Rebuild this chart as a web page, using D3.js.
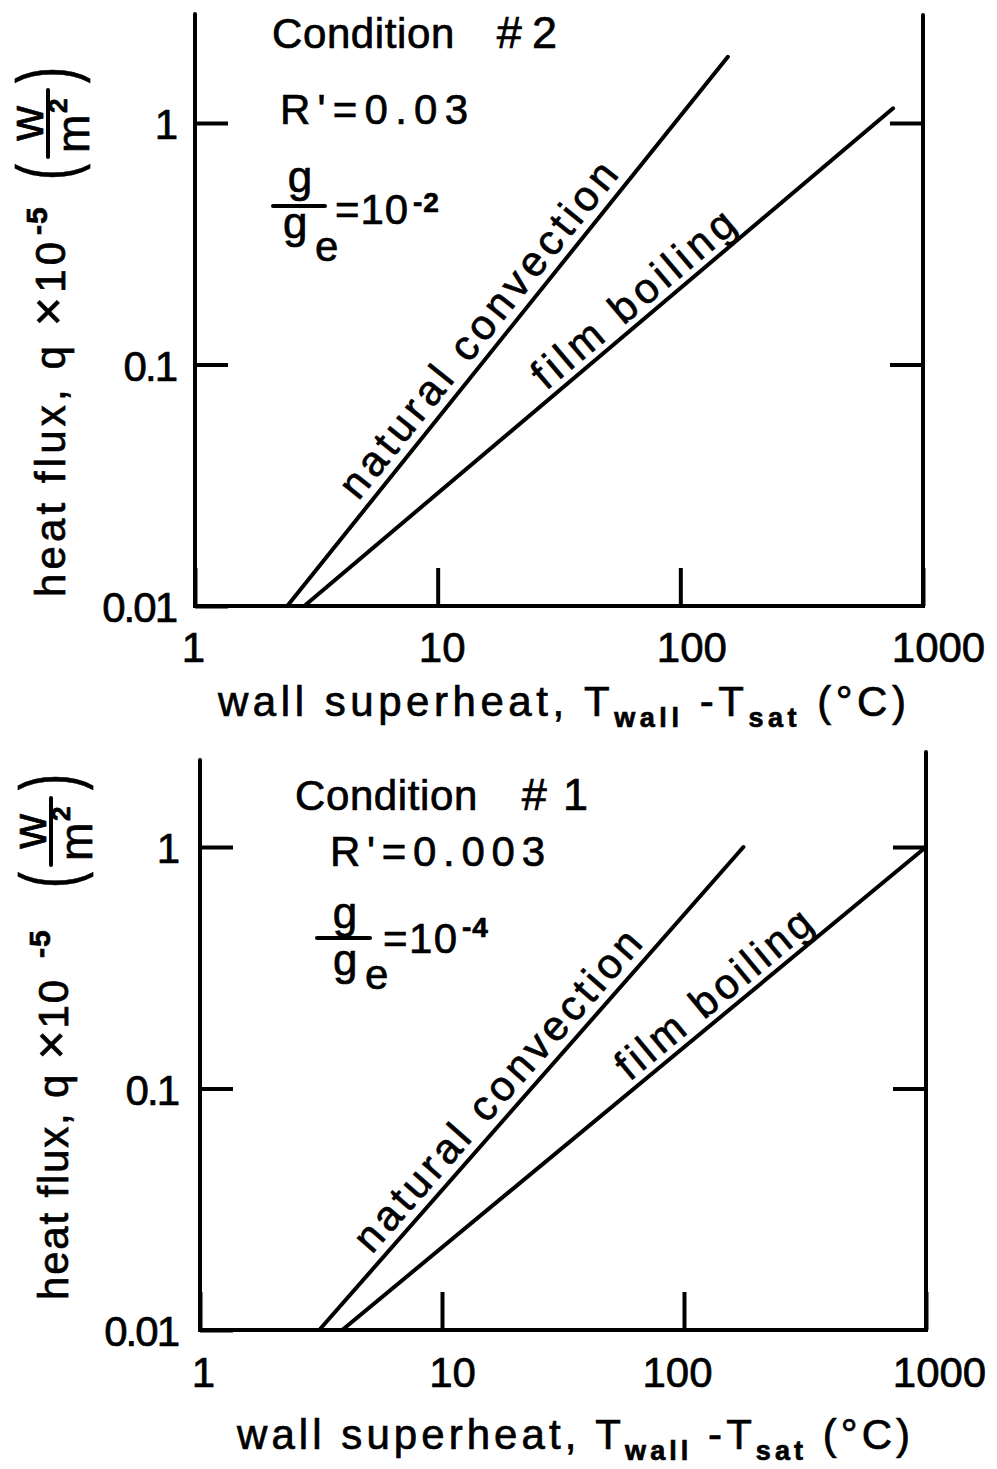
<!DOCTYPE html>
<meta charset="utf-8">
<head>
  <title>Heat flux vs wall superheat</title>
</head>

<style>
body {
  margin: 0;
  background: #fff;
}
svg {
  display: block;
}
text {
  font-family: "Liberation Sans", Arial, sans-serif;
  fill: #000;
  stroke: #000;
  stroke-width: 0.7px;
}
.frame, .curve, .bar {
  stroke: #000;
  stroke-width: 4;
  fill: none;
  stroke-linecap: round;
}
.tick line {
  stroke: #000;
  stroke-width: 4;
}
</style>

<body>
  <div id="chart"></div>

  <script src="https://cdnjs.cloudflare.com/ajax/libs/d3/7.8.5/d3.min.js"></script>
  <script>
  // axis ticks (log-log)
  var xTicks = [1, 10, 100, 1000];
  var xTickLabels = ["1", "10", "100", "1000"];
  var yTicks = [0.01, 0.1, 1];
  var yTickLabels = ["0.01", "0.1", "1"];

  // straight lines, [superheat (C), heat flux x 1e-5] at each end
  // condition #2 (top)
  var natural2 = [[2.4, 0.01], [157, 1.88]];
  var film2 = [[2.82, 0.01], [753, 1.15]];
  // condition #1 (bottom)
  var natural1 = [[3.11, 0.01], [176, 1.0]];
  var film1 = [[3.87, 0.01], [1000, 1.0]];

  var lineNames = ["natural convection", "film boiling"];

  // notes in each panel
  var conditionNames = ["Condition", "Condition"];
  var conditionNumbers = ["#2", "#1"];
  var rValues = ["0.03", "0.003"];
  var gExponents = ["-2", "-4"];

  // stretch a text to a given width with letter spacing
  function fitWidth(t, width) {
    var n = t.node().getNumberOfChars();
    var w = t.node().getComputedTextLength();
    t.attr("letter-spacing", ((width - w) / (n - 1)).toFixed(2));
  }

  var svg = d3.select("#chart").append("svg")
      .attr("width", 997)
      .attr("height", 1469);

  // layout of the two panels (pixels)
  var panels = [
    { lines: [natural2, film2], left: 195, right: 923, bottom: 606, one: 123,
      leftTop: 14, rightTop: 15, tickY: 662, yPad: 19,
      nudge: [-2, 4, 11, 15],
      labels: [{ t: 0.479, off: 10, len: 418 }, { t: 0.586, off: 8, len: 252 }],
      cond: [272, 48, 42, 10], r: [280, 124, 188],
      frac: { x0: 273, x1: 325, y: 206, numX: 300, numY: 192, denX: 283, denY: 238,
              eX: 315, eY: 261, eqX: 335, eqY: 224, eqW: 73, supX: 413, supY: 212 },
      yLab: { x: 65, y: 597, len: 355, sup: 362, open: 417, num: 440, numEnd: 507, close: 514 },
      xLab: { x: 218, y: 716, w: 688 } },
    { lines: [natural1, film1], left: 200, right: 926, bottom: 1330, one: 847,
      leftTop: 760, rightTop: 752, tickY: 1387, yPad: 22,
      nudge: [3, 10, -7, 13],
      labels: [{ t: 0.466, off: 10, len: 413 }, { t: 0.663, off: 8, len: 242 }],
      cond: [295, 810, 44, 16], r: [330, 866, 215],
      frac: { x0: 317, x1: 370, y: 938, numX: 345, numY: 928, denX: 333, denY: 975,
              eX: 365, eY: 989, eqX: 383, eqY: 953, eqW: 74, supX: 462, supY: 937 },
      yLab: { x: 68, y: 1300, len: 320, sup: 342, open: 412, num: 435, numEnd: 502, close: 510 },
      xLab: { x: 237, y: 1449, w: 673 } }
  ];

  panels.forEach(function(p, k) {
    var g = svg.append("g");

    var x = d3.scaleLog().domain([1, 1000]).range([p.left, p.right]);
    var y = d3.scaleLog().domain([0.01, 1]).range([p.bottom, p.one]);

    // frame
    g.append("path").attr("class", "frame")
      .attr("d", d3.line()([[p.left, p.leftTop], [p.left, p.bottom], [p.right, p.bottom], [p.right, p.rightTop]]));

    // bottom ticks and labels
    g.append("g")
      .attr("transform", "translate(0," + p.bottom + ")")
      .call(d3.axisBottom(x).tickValues(xTicks)
        .tickFormat(function(d, i) { return xTickLabels[i]; })
        .tickSizeInner(-38).tickSizeOuter(0).tickPadding(p.tickY - p.bottom - 30))
      .attr("font-size", 42).attr("font-family", null)
      .call(function(a) { a.select(".domain").remove(); })
      .selectAll("text").attr("fill", "#000")
        .attr("dx", function(d, i) { return p.nudge[i]; });

    // left ticks and labels
    g.append("g")
      .attr("transform", "translate(" + p.left + ",0)")
      .call(d3.axisLeft(y).tickValues(yTicks)
        .tickFormat(function(d, i) { return yTickLabels[i]; })
        .tickSizeInner(-33).tickSizeOuter(0).tickPadding(p.yPad))
      .attr("font-size", 42).attr("font-family", null)
      .call(function(a) { a.select(".domain").remove(); })
      .selectAll("text").attr("fill", "#000").attr("dy", "0.38em").attr("letter-spacing", -2);

    // right ticks
    g.append("g")
      .attr("transform", "translate(" + p.right + ",0)")
      .call(d3.axisRight(y).tickValues([0.1, 1]).tickFormat("")
        .tickSizeInner(-33).tickSizeOuter(0))
      .call(function(a) { a.select(".domain").remove(); });

    // the two lines with their labels
    var line = d3.line()
      .x(function(d) { return x(d[0]); })
      .y(function(d) { return y(d[1]); });

    p.lines.forEach(function(s, i) {
      g.append("path").attr("class", "curve").attr("d", line(s));

      var x0 = x(s[0][0]), y0 = y(s[0][1]);
      var x1 = x(s[1][0]), y1 = y(s[1][1]);
      var L = Math.hypot(x1 - x0, y1 - y0);
      var ux = (x1 - x0) / L, uy = (y1 - y0) / L;
      var lab = p.labels[i];
      var cx = x0 + ux * lab.t * L + uy * lab.off;
      var cy = y0 + uy * lab.t * L - ux * lab.off;
      var ang = Math.atan2(uy, ux) * 180 / Math.PI;
      var t = g.append("text")
        .attr("transform", "translate(" + cx + "," + cy + ") rotate(" + ang + ")")
        .attr("text-anchor", "middle")
        .attr("font-size", 42)
        .text(lineNames[i]);
      fitWidth(t, lab.len);
    });

    // condition notes
    var c = g.append("text").attr("x", p.cond[0]).attr("y", p.cond[1])
      .attr("font-size", 42).attr("letter-spacing", 0.6).text(conditionNames[k]);
    c.append("tspan").attr("dx", p.cond[2]).attr("font-size", 45)
      .attr("letter-spacing", p.cond[3]).text(conditionNumbers[k]);
    var r = g.append("text").attr("x", p.r[0]).attr("y", p.r[1])
      .attr("font-size", 42).text("R'=" + rValues[k]);
    fitWidth(r, p.r[2]);

    var f = p.frac;
    g.append("line").attr("class", "bar")
      .attr("x1", f.x0).attr("x2", f.x1).attr("y1", f.y).attr("y2", f.y);
    g.append("text").attr("x", f.numX).attr("y", f.numY)
      .attr("text-anchor", "middle").attr("font-size", 44).text("g");
    g.append("text").attr("x", f.denX).attr("y", f.denY)
      .attr("font-size", 44).text("g");
    g.append("text").attr("x", f.eX).attr("y", f.eY)
      .attr("font-size", 42).text("e");
    var eq = g.append("text").attr("x", f.eqX).attr("y", f.eqY)
      .attr("font-size", 42).text("=10");
    fitWidth(eq, f.eqW);
    g.append("text").attr("x", f.supX).attr("y", f.supY)
      .attr("font-size", 28).attr("font-weight", "bold").attr("letter-spacing", 1)
      .text(gExponents[k]);

    // y axis title, rotated
    var yl = p.yLab;
    var yg = g.append("g")
      .attr("transform", "translate(" + yl.x + "," + yl.y + ") rotate(-90)");
    var main = yg.append("text").attr("x", 0).attr("y", 0)
      .attr("font-size", 42);
    main.append("tspan").text("heat flux, q ");
    main.append("tspan").attr("font-size", 50).text("\u00d7");
    main.append("tspan").text("10");
    fitWidth(main, yl.len);
    yg.append("text").attr("x", yl.sup).attr("y", -18)
      .attr("font-size", 30).attr("font-weight", "bold").attr("letter-spacing", 1).text("-5");
    yg.append("text").attr("transform", "translate(" + yl.open + ",8) scale(0.6,1)")
      .attr("font-size", 80).text("(");
    yg.append("text").attr("x", (yl.num + yl.numEnd) / 2).attr("y", -22)
      .attr("text-anchor", "middle").attr("font-size", 48).text("w");
    yg.append("line").attr("class", "bar")
      .attr("x1", yl.num).attr("x2", yl.numEnd).attr("y1", -17).attr("y2", -17);
    yg.append("text").attr("x", yl.num + 4).attr("y", 24)
      .attr("font-size", 46).text("m");
    yg.append("text").attr("x", yl.num + 44).attr("y", 2)
      .attr("font-size", 26).attr("font-weight", "bold").text("2");
    yg.append("text").attr("transform", "translate(" + yl.close + ",8) scale(0.6,1)")
      .attr("font-size", 80).text(")");

    // x axis title
    var xl = g.append("text").attr("x", p.xLab.x).attr("y", p.xLab.y)
      .attr("font-size", 42);
    xl.append("tspan").text("wall superheat, T");
    xl.append("tspan").attr("dy", 11).attr("font-size", 27).attr("font-weight", "bold").text("wall");
    xl.append("tspan").attr("dy", -11).text(" -T");
    xl.append("tspan").attr("dy", 11).attr("font-size", 27).attr("font-weight", "bold").text("sat");
    xl.append("tspan").attr("dy", -11).text(" (\u00b0C)");
    fitWidth(xl, p.xLab.w);
  });
  </script>
</body>
</html>
